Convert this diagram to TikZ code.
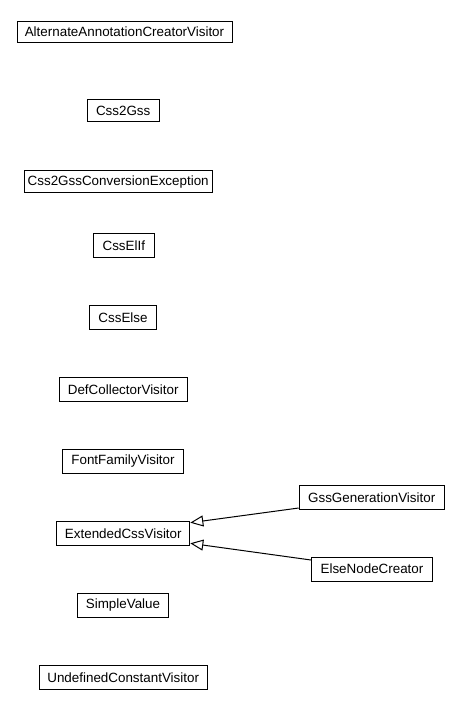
\documentclass[tikz,border=0pt]{standalone}
\usepackage{fontspec}
\setmainfont{Liberation Sans}
\usetikzlibrary{arrows.meta}
\begin{document}
\begin{tikzpicture}[x=1pt,y=-1pt,
  cls/.style={draw,line width=1pt,rectangle,inner sep=0pt,font=\fontsize{13.4}{15}\selectfont,anchor=center},
  inh/.style={line width=1pt,-{Triangle[open,length=13pt,width=11pt]}}]
\useasboundingbox (0,0) rectangle (460,707);
\node[cls,minimum width=215pt,minimum height=21pt] (alt) at (124.5,31.5) {AlternateAnnotationCreatorVisitor};
\node[cls,minimum width=72pt,minimum height=22pt] (css2gss) at (123.2,110.5) {Css2Gss};
\node[cls,minimum width=188pt,minimum height=22pt] (conv) at (118.2,181.8) {Css2GssConversionException};
\node[cls,minimum width=61pt,minimum height=24pt] (elif) at (123.8,245.5) {CssElIf};
\node[cls,minimum width=67pt,minimum height=24pt] (else) at (123,317.5) {CssElse};
\node[cls,minimum width=128pt,minimum height=24pt] (def) at (123.2,389.5) {DefCollectorVisitor};
\node[cls,minimum width=121pt,minimum height=24pt] (font) at (123,461.5) {FontFamilyVisitor};
\node[cls,minimum width=133pt,minimum height=24pt] (ext) at (123.3,533.7) {ExtendedCssVisitor};
\node[cls,minimum width=145pt,minimum height=24pt] (gss) at (371.7,497.8) {GssGenerationVisitor};
\node[cls,minimum width=121pt,minimum height=24pt] (enc) at (372,569.2) {ElseNodeCreator};
\node[cls,minimum width=91pt,minimum height=24pt] (simple) at (123,605.3) {SimpleValue};
\node[cls,minimum width=168pt,minimum height=24pt] (undef) at (123.2,677.5) {UndefinedConstantVisitor};
\draw[inh] ([yshift=-10.2pt]gss.west) -- ([yshift=11pt]ext.east);
\draw[inh] ([yshift=9.2pt]enc.west) -- ([yshift=-9.6pt]ext.east);
\end{tikzpicture}
\end{document}
